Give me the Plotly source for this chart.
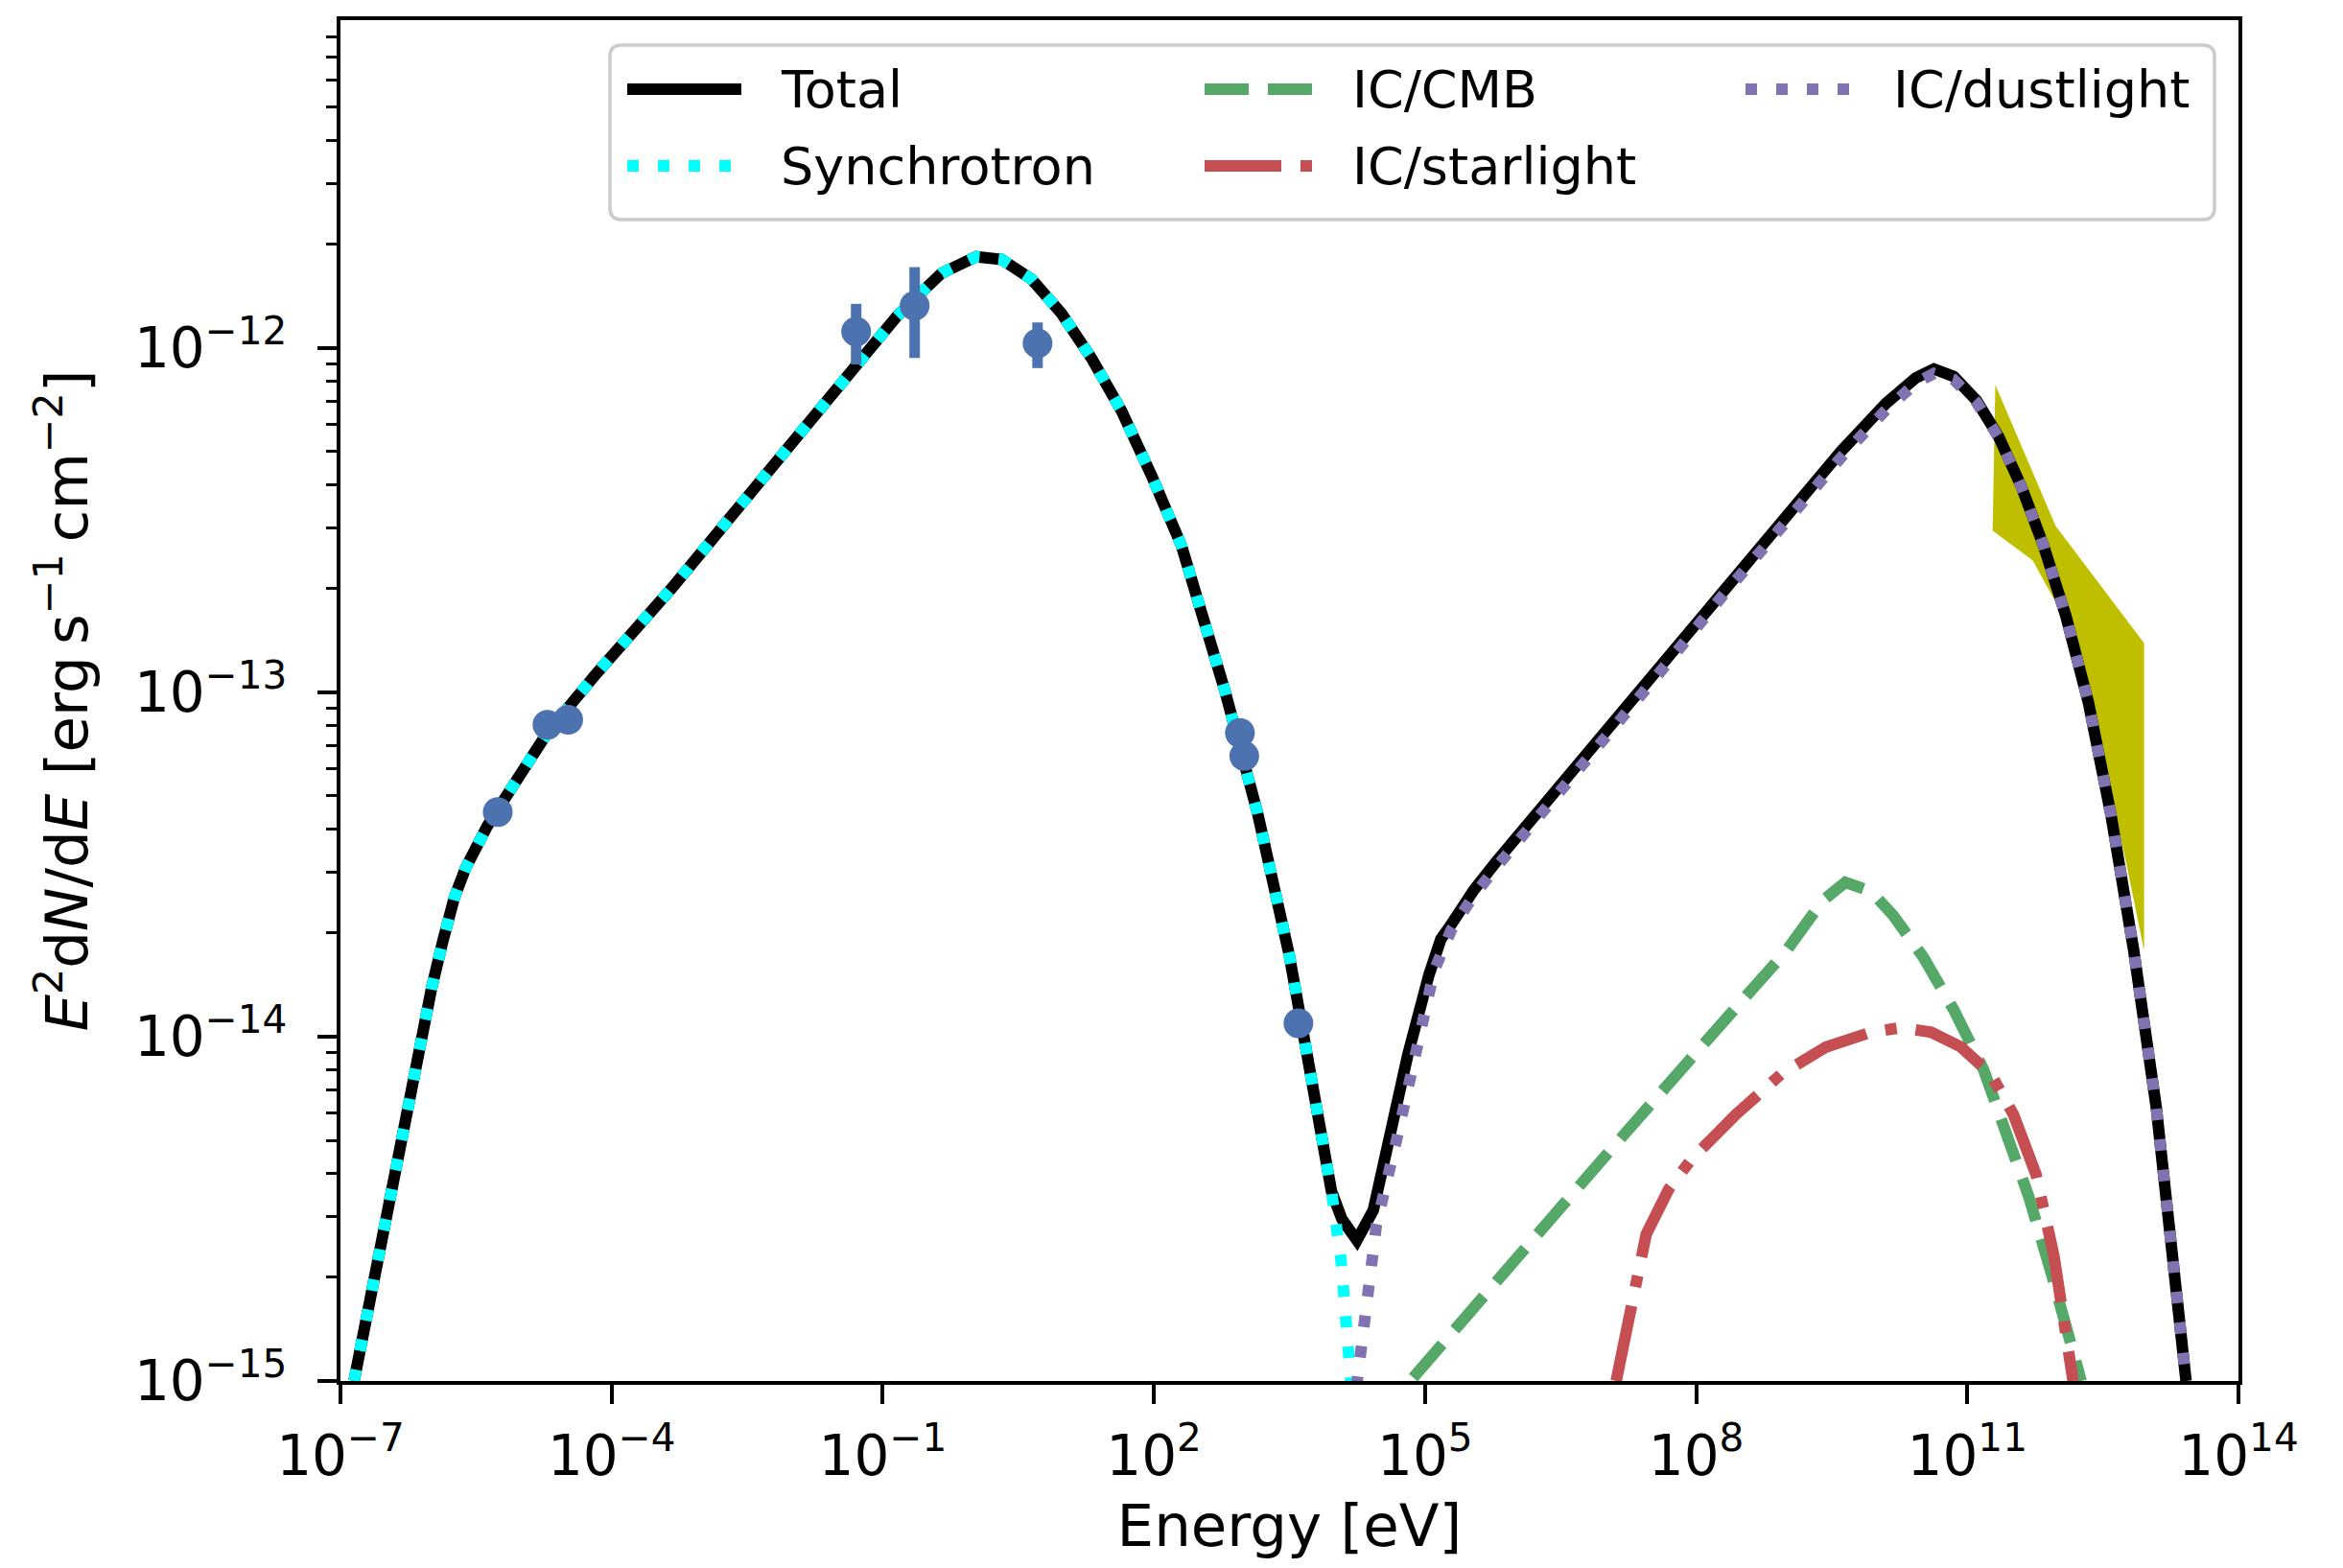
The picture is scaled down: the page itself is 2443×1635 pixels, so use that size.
import plotly.graph_objects as go

# ---------------- data ----------------
# observed points
obs_E = [5.50e-6, 1.95e-5, 3.31e-5, 0.0508, 0.2254, 5.16, 895.0, 1000.0, 3972.0]
obs_F = [4.49e-14, 8.05e-14, 8.32e-14, 1.116e-12, 1.327e-12, 1.031e-12, 7.62e-14, 6.53e-14, 1.094e-14]
obs_F_hi = [None, None, None, 1.343e-12, 1.718e-12, 1.186e-12, None, None, None]
obs_F_lo = [None, None, None, 8.96e-13, 9.35e-13, 8.74e-13, None, None, None]

# model curves, given as log10(E / eV) and log10(E^2 dN/dE)
total_logE = [-6.85, -6.65, -6.45, -6.24, -5.99, -5.865, -5.74, -5.615, -5.49, -5.375, -5.26, -4.99,
              -4.71, -4.41, -4.16, -3.33, -2.505, -1.676, -1.294, -0.846, -0.647, -0.35, 0.033,
              0.315, 0.646, 0.978, 1.31, 1.642, 1.973, 2.305, 2.786, 3.148, 3.499, 3.682, 3.964,
              4.08, 4.246, 4.428, 4.81, 5.042, 5.175, 5.29, 5.54, 5.79, 6.617, 7.447, 8.276,
              9.106, 9.603, 10.10, 10.43, 10.63, 10.85, 11.10, 11.345, 11.594, 11.843, 12.09,
              12.34, 12.59, 12.84, 13.09, 13.25, 13.35, 13.42]
total_logF = [-15.0, -14.726, -14.465, -14.183, -13.857, -13.72, -13.596, -13.51, -13.443, -13.388,
              -13.340, -13.226, -13.117, -13.022, -12.943, -12.696, -12.435, -12.161, -12.039,
              -11.909, -11.857, -11.783, -11.735, -11.743, -11.80, -11.90, -12.03, -12.183,
              -12.37, -12.574, -12.996, -13.352, -13.765, -14.022, -14.448, -14.53, -14.591,
              -14.504, -14.052, -13.822, -13.717, -13.674, -13.574, -13.491, -13.235, -12.974,
              -12.709, -12.452, -12.30, -12.161, -12.087, -12.061, -12.083, -12.152, -12.257,
              -12.40, -12.574, -12.778, -13.03, -13.357, -13.748, -14.204, -14.596, -14.857, -15.0]

sync_logE = [-6.85, -6.65, -6.45, -6.24, -5.99, -5.865, -5.74, -5.615, -5.49, -5.375, -5.26, -4.99,
             -4.71, -4.41, -4.16, -3.33, -2.505, -1.676, -1.294, -0.846, -0.647, -0.35, 0.033,
             0.315, 0.646, 0.978, 1.31, 1.642, 1.973, 2.305, 2.786, 3.148, 3.499, 3.682, 3.964,
             4.07, 4.18, 4.195]
sync_logF = [-15.0, -14.726, -14.465, -14.183, -13.857, -13.72, -13.596, -13.51, -13.443, -13.388,
             -13.340, -13.226, -13.117, -13.022, -12.943, -12.696, -12.435, -12.161, -12.039,
             -11.909, -11.857, -11.783, -11.735, -11.743, -11.80, -11.90, -12.03, -12.183,
             -12.37, -12.574, -12.996, -13.352, -13.765, -14.022, -14.448, -14.648, -14.991, -15.05]

cmb_logE = [4.87, 6.0, 7.0, 8.0, 9.0, 9.4, 9.65, 9.935, 10.18, 10.515, 10.85, 11.18, 11.43,
            11.68, 11.925, 12.14, 12.26]
cmb_logF = [-14.99, -14.644, -14.345, -14.046, -13.75, -13.605, -13.552, -13.578, -13.648, -13.77,
            -13.922, -14.096, -14.27, -14.465, -14.683, -14.90, -15.0]

star_logE = [7.115, 7.28, 7.447, 7.696, 7.945, 8.44, 8.94, 9.437, 9.935, 10.267, 10.6, 10.93,
             11.26, 11.51, 11.76, 11.96, 12.09, 12.17]
star_logF = [-15.0, -14.77, -14.574, -14.443, -14.357, -14.226, -14.109, -14.03, -13.987, -13.974,
             -13.987, -14.03, -14.109, -14.226, -14.40, -14.639, -14.857, -15.0]

dust_logE = [4.24, 4.461, 4.677, 4.926, 5.10, 5.29, 5.54, 5.79, 6.617, 7.447, 8.276, 9.106, 9.603,
             10.10, 10.43, 10.63, 10.85, 11.10, 11.345, 11.594, 11.843, 12.09, 12.34, 12.59,
             12.84, 13.09, 13.25, 13.35, 13.42]
dust_logF = [-15.02, -14.548, -14.309, -13.996, -13.809, -13.69, -13.59, -13.507, -13.252, -12.99,
             -12.725, -12.468, -12.318, -12.18, -12.102, -12.074, -12.092, -12.157, -12.259,
             -12.40, -12.574, -12.778, -13.03, -13.357, -13.748, -14.204, -14.596, -14.857, -15.0]

# measured butterfly (upper and lower edges)
band_up_logE = [11.31, 11.975, 12.953]
band_up_logF = [-12.109, -12.517, -12.857]
band_lo_logE = [11.28, 11.726, 12.09, 12.42, 12.754, 12.953]
band_lo_logF = [-12.53, -12.617, -12.791, -13.104, -13.487, -13.743]

x_tick_exp = [-7, -4, -1, 2, 5, 8, 11, 14]
y_tick_exp = [-15, -14, -13, -12]

# ---------------- styling ----------------
FONT = "DejaVu Sans"
LW = 12
C_TOTAL, C_SYNC, C_CMB, C_STAR, C_DUST = "#000000", "#00ffff", "#55a868", "#c44e52", "#8172b2"
C_PTS, C_BAND = "#4c72b0", "#bfbf00"
D_DOT = "12px,20px"
D_DASH = "46px,20px"
D_DASHDOT = "80px,20px,12px,20px"


def lin(vals):
    return [10 ** v for v in vals]


fig = go.Figure()

# butterfly
bx = lin(band_up_logE) + lin(band_lo_logE[::-1])
by = lin(band_up_logF) + lin(band_lo_logF[::-1])
fig.add_trace(go.Scatter(x=bx, y=by, mode="lines", fill="toself", fillcolor=C_BAND,
                         line=dict(color=C_BAND, width=0.5), showlegend=False, name="data band"))

fig.add_trace(go.Scatter(x=lin(total_logE), y=lin(total_logF), mode="lines", name="Total",
                         line=dict(color=C_TOTAL, width=LW)))
fig.add_trace(go.Scatter(x=lin(sync_logE), y=lin(sync_logF), mode="lines", name="Synchrotron",
                         line=dict(color=C_SYNC, width=LW, dash=D_DOT)))
fig.add_trace(go.Scatter(x=lin(cmb_logE), y=lin(cmb_logF), mode="lines", name="IC/CMB",
                         line=dict(color=C_CMB, width=LW, dash=D_DASH)))
fig.add_trace(go.Scatter(x=lin(star_logE), y=lin(star_logF), mode="lines", name="IC/starlight",
                         line=dict(color=C_STAR, width=LW, dash=D_DASHDOT)))
fig.add_trace(go.Scatter(x=lin(dust_logE), y=lin(dust_logF), mode="lines", name="IC/dustlight",
                         line=dict(color=C_DUST, width=LW, dash=D_DOT)))

err_up = [(h - f) if h is not None else 0 for h, f in zip(obs_F_hi, obs_F)]
err_dn = [(f - l) if l is not None else 0 for l, f in zip(obs_F_lo, obs_F)]
fig.add_trace(go.Scatter(x=obs_E, y=obs_F, mode="markers", name="data",
                         marker=dict(color=C_PTS, size=31, line=dict(width=0)),
                         error_y=dict(type="data", symmetric=False, array=err_up,
                                      arrayminus=err_dn, color=C_PTS, thickness=11, width=0)))

# ---------------- layout ----------------
# target page pixels; the browser page has an 8 px body margin
OFF = 8
W_PX, H_PX = 2443, 1635
L, R, T, B = 355, 2334, 21, 1440
PW, PH = R - L, B - T


def px(xp):
    return (xp - L) / PW


def py(yp):
    return 1 - (yp - T) / PH


shapes = []
# legend frame (rounded)
x0, x1, y0, y1 = px(636), px(2309), py(229), py(47)
rx, ry = 12 / PW, 12 / PH
path = (f"M {x0 + rx},{y1} L {x1 - rx},{y1} Q {x1},{y1} {x1},{y1 - ry} L {x1},{y0 + ry} "
        f"Q {x1},{y0} {x1 - rx},{y0} L {x0 + rx},{y0} Q {x0},{y0} {x0},{y0 + ry} "
        f"L {x0},{y1 - ry} Q {x0},{y1} {x0 + rx},{y1} Z")
shapes.append(dict(type="path", path=path, xref="paper", yref="paper",
                   fillcolor="rgba(255,255,255,0.8)", line=dict(color="#cccccc", width=3.5)))

legend_items = [
    ("Total", C_TOTAL, "solid", 654, 93, 812),
    ("Synchrotron", C_SYNC, D_DOT, 654, 173, 812),
    ("IC/CMB", C_CMB, D_DASH, 1256, 93, 1408),
    ("IC/starlight", C_STAR, D_DASHDOT, 1256, 173, 1408),
    ("IC/dustlight", C_DUST, D_DOT, 1820, 93, 1972),
]
annotations = []
for label, col, dash, hx, hy, tx in legend_items:
    shapes.append(dict(type="line", xref="paper", yref="paper", x0=px(hx), x1=px(hx + 119),
                       y0=py(hy), y1=py(hy), line=dict(color=col, width=LW, dash=dash)))
    annotations.append(dict(text=label, xref="paper", yref="paper", x=px(tx), y=py(hy),
                            xanchor="left", yanchor="middle", showarrow=False,
                            font=dict(family=FONT, size=54, color="black")))

minor_y = [m * 10.0 ** k for k in range(-15, -11) for m in range(2, 10)]

fig.update_layout(
    width=W_PX - OFF, height=H_PX - OFF,
    margin=dict(l=L - OFF, r=W_PX - R, t=T - OFF, b=H_PX - B, autoexpand=False),
    paper_bgcolor="white", plot_bgcolor="white",
    font=dict(family=FONT, color="black"),
    showlegend=False,
    shapes=shapes, annotations=annotations,
    xaxis=dict(type="log", range=[-7, 14], showgrid=False, zeroline=False,
               showline=True, linecolor="black", linewidth=4, mirror=True,
               ticks="outside", ticklen=20, tickwidth=4, tickcolor="black",
               tickvals=[10.0 ** k for k in x_tick_exp],
               ticktext=[f"10<sup>{str(k).replace('-', '−')}</sup>" for k in x_tick_exp],
               tickfont=dict(family=FONT, size=58), ticklabelstandoff=4,
               title=dict(text="Energy [eV]", font=dict(family=FONT, size=61), standoff=20)),
    yaxis=dict(type="log", range=[-15, -11.048], showgrid=False, zeroline=False,
               showline=True, linecolor="black", linewidth=4, mirror=True,
               ticks="outside", ticklen=20, tickwidth=4, tickcolor="black",
               tickvals=[10.0 ** k for k in y_tick_exp],
               ticktext=[f"10<sup>{str(k).replace('-', '−')}</sup>" for k in y_tick_exp],
               tickfont=dict(family=FONT, size=58), ticklabelstandoff=20,
               minor=dict(ticks="outside", ticklen=11, tickwidth=3, tickcolor="black",
                          tickvals=minor_y, showgrid=False),
               title=dict(text="<i>E</i><sup>2</sup>d<i>N</i>/d<i>E</i> [erg\u2009s<sup>−1</sup>\u2009cm<sup>−2</sup>]",
                          font=dict(family=FONT, size=61), standoff=30)),
)

fig.write_html("out.html")
